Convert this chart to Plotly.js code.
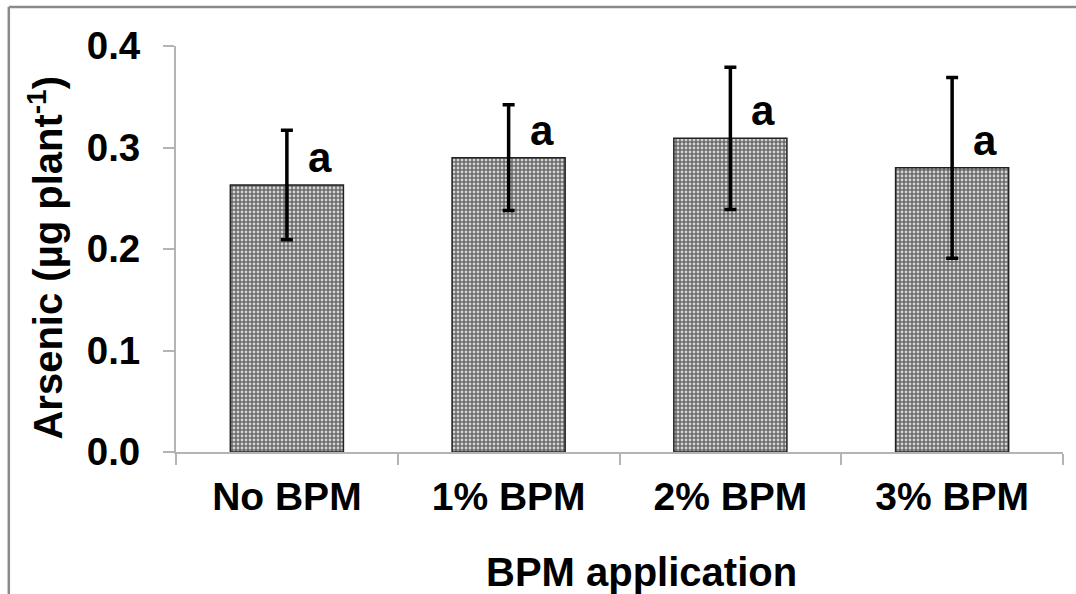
<!DOCTYPE html>
<html><head><meta charset="utf-8">
<script src="https://cdn.plot.ly/plotly-3.0.1.min.js"></script>
<style>html,body{margin:0;padding:0;background:#fff}#chart{width:1076px;height:594px}</style>
</head><body><div id="chart"></div>
<script>
const categories = ["No BPM", "1% BPM", "2% BPM", "3% BPM"];
const arsenic = [0.263, 0.290, 0.309, 0.280];
const errorSD = [0.054, 0.052, 0.070, 0.089];
const letters = ["a", "a", "a", "a"];
const yTickVals = [0.0, 0.1, 0.2, 0.3, 0.4];
const yTickText = ["0.0", "0.1", "0.2", "0.3", "0.4"];

const font = "Liberation Sans, Arial, sans-serif";
const axisGrey = "#b4b4b4";

const trace = {
  type: "bar",
  x: categories,
  y: arsenic,
  width: 0.51,
  marker: {
    color: "#7a7a7a",
    line: {color: "#222", width: 1.5},
    pattern: {shape: ".", size: 4, solidity: 0.4, fgcolor: "#d4d4d4", bgcolor: "#6a6a6a"}
  },
  error_y: {type: "data", array: errorSD, visible: true, color: "#000", thickness: 3.5, width: 6},
  hoverinfo: "skip"
};

const annotations = categories.map((c, i) => ({
  x: c, y: arsenic[i] + 0.027, xref: "x", yref: "y",
  text: "<b>" + letters[i] + "</b>", showarrow: false, xshift: 33,
  font: {family: font, size: 42, color: "#000"}
}));
annotations.push({
  x: 0.525, y: -0.295, xref: "paper", yref: "paper", yanchor: "middle",
  text: "<b>BPM application</b>", showarrow: false,
  font: {family: font, size: 40, color: "#000"}
});
annotations.push({
  x: -0.147, y: 0.478, xref: "paper", yref: "paper", xanchor: "center", yanchor: "middle",
  text: "<b>Arsenic (µg plant<sup>-1</sup>)</b>", showarrow: false, textangle: -90,
  font: {family: font, size: 40, color: "#000"}
});

const layout = {
  width: 1076, height: 594,
  margin: {l: 176, r: 13, t: 46, b: 142},
  paper_bgcolor: "#fff", plot_bgcolor: "#fff",
  showlegend: false,
  xaxis: {
    type: "category", showline: true, linecolor: axisGrey, linewidth: 2,
    ticks: "outside", tickson: "boundaries", ticklen: 11, tickcolor: axisGrey, tickwidth: 2,
    showgrid: false, zeroline: false,
    tickfont: {family: font, size: 39, color: "#000"},
    ticklabelstandoff: 9,
    tickprefix: "<b>", ticksuffix: "</b>"
  },
  yaxis: {
    range: [0, 0.4], tickvals: yTickVals, ticktext: yTickText.map(t => "<b>" + t + "</b>"),
    showline: true, linecolor: axisGrey, linewidth: 2,
    ticks: "outside", ticklen: 11, tickcolor: axisGrey, tickwidth: 2,
    showgrid: false, zeroline: false,
    tickfont: {family: font, size: 38.5, color: "#000"},
    ticklabelstandoff: 15
  },
  annotations: annotations,
  shapes: [
    {type: "line", xref: "paper", yref: "paper", x0: -0.1885, x1: -0.1885, y0: -0.4, y1: 1.096, line: {color: "#8a8a8a", width: 2.5}},
    {type: "line", xref: "paper", yref: "paper", x0: -0.1885, x1: 1.02, y0: 1.096, y1: 1.096, line: {color: "#8a8a8a", width: 2.5}}
  ]
};

Plotly.newPlot("chart", [trace], layout, {displayModeBar: false, staticPlot: true});
</script></body></html>
